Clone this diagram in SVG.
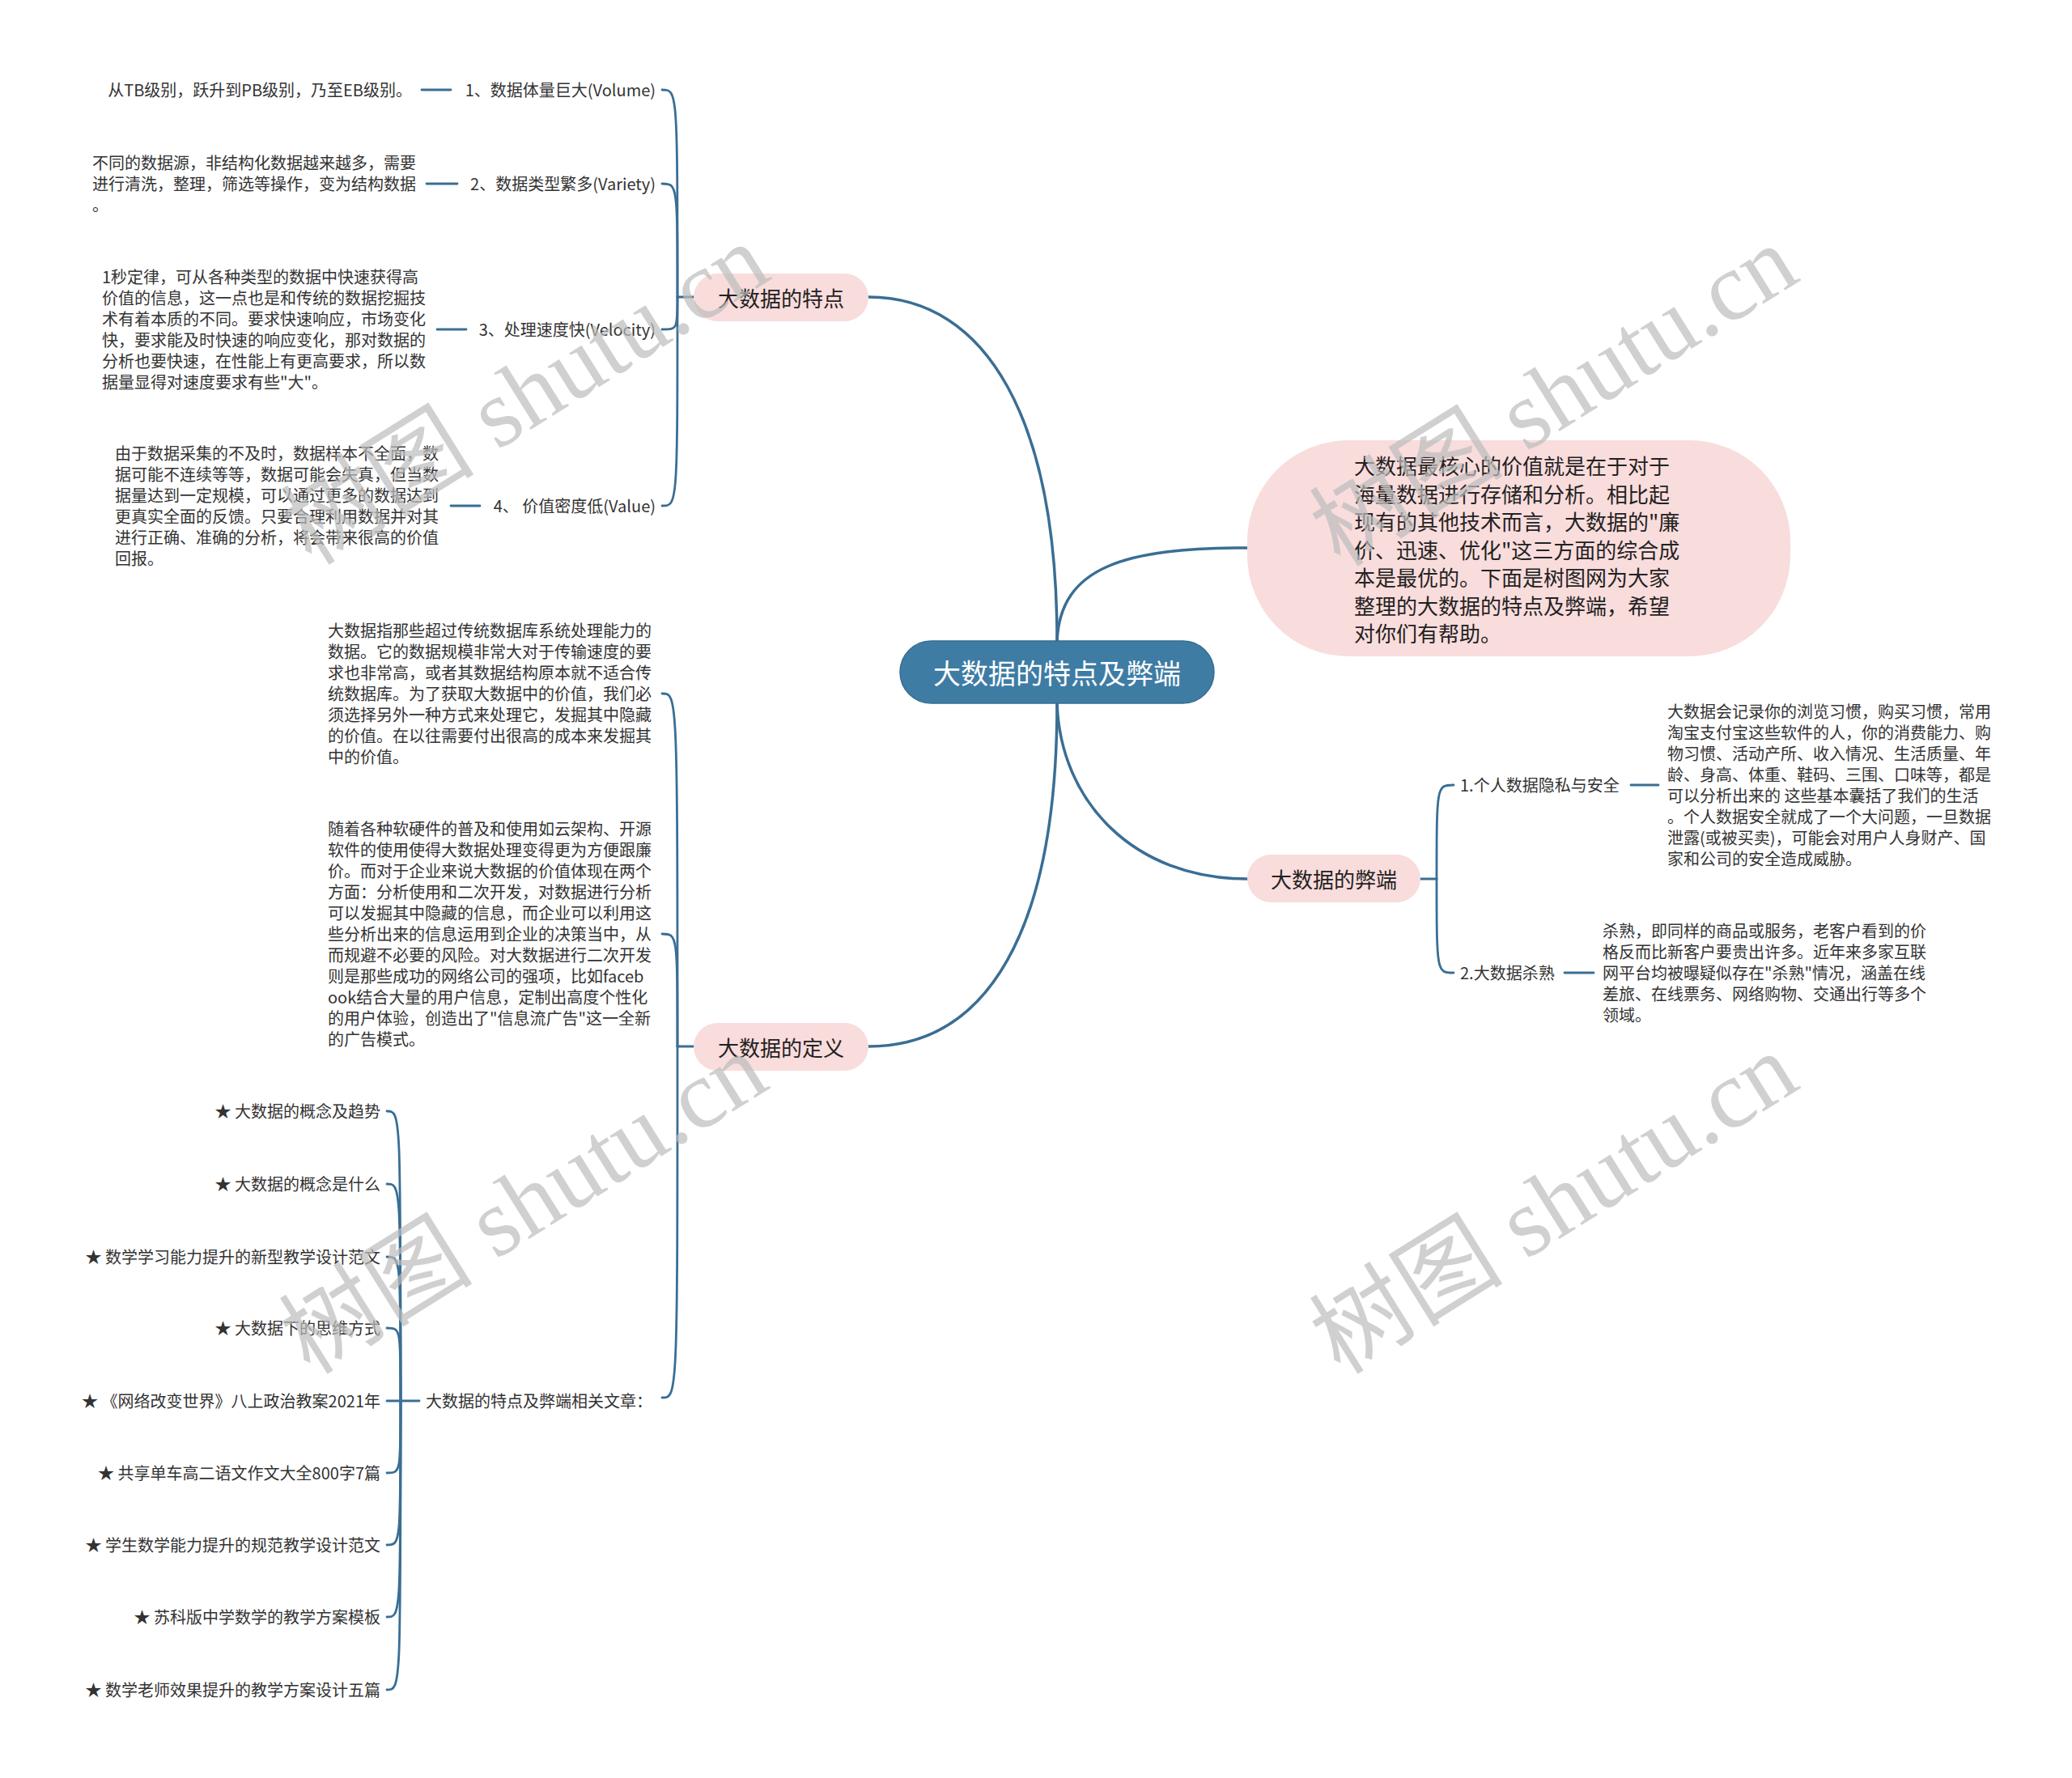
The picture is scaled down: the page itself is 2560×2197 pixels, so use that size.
<svg xmlns="http://www.w3.org/2000/svg" width="2560" height="2197" viewBox="0 0 2560 2197">
<style>
.lk{fill:none;stroke:#3a6e94;stroke-width:2.8;stroke-linecap:round}
.mk{fill:none;stroke:#3a6e94;stroke-width:3.5;stroke-linecap:round}
.t{font-family:"Noto Sans CJK SC","Microsoft YaHei",sans-serif;fill:#333;font-size:20px}
.nt{font-family:"Noto Sans CJK SC","Microsoft YaHei",sans-serif;fill:#222;font-size:26px}
.pk{fill:#f9dcdc}
.wm{font-family:"Liberation Serif","Noto Sans CJK SC",serif;font-size:120px;fill:#bdbdbd;opacity:0.7}
</style>
<rect width="2560" height="2197" fill="#fff"/>
<g id="connectors">
<path class="mk" d="M1306,792 C1306,520 1220,367 1073,367"/>
<path class="mk" d="M1306,792 C1310,700 1390,677 1541,677"/>
<path class="mk" d="M1306,869 C1310,990 1400,1086 1541,1086"/>
<path class="mk" d="M1306,869 C1306,1150 1220,1293 1073,1293"/>
<path class="lk" d="M857,367 L837,367"/>
<path class="lk" d="M837,367 C837,111 837,111 818,111"/>
<path class="lk" d="M837,367 C837,227 837,227 818,227"/>
<path class="lk" d="M837,367 C837,407 837,407 818,407"/>
<path class="lk" d="M837,367 C837,625 837,625 818,625"/>
<path class="lk" d="M521,111 L557,111"/>
<path class="lk" d="M527,227 L565,227"/>
<path class="lk" d="M540,407 L576,407"/>
<path class="lk" d="M557,625 L593,625"/>
<path class="lk" d="M857,1293 L837,1293"/>
<path class="lk" d="M837,1293 C837,857 837,857 818,857"/>
<path class="lk" d="M837,1293 C837,1154 837,1154 818,1154"/>
<path class="lk" d="M837,1293 C837,1727 837,1727 818,1727"/>
<path class="lk" d="M518,1731 L495,1731"/>
<path class="lk" d="M495,1731 C495,1373 495,1373 478,1373"/>
<path class="lk" d="M495,1731 C495,1463 495,1463 478,1463"/>
<path class="lk" d="M495,1731 C495,1553 495,1553 478,1553"/>
<path class="lk" d="M495,1731 C495,1641 495,1641 478,1641"/>
<path class="lk" d="M495,1731 L478,1731"/>
<path class="lk" d="M495,1731 C495,1820 495,1820 478,1820"/>
<path class="lk" d="M495,1731 C495,1909 495,1909 478,1909"/>
<path class="lk" d="M495,1731 C495,1998 495,1998 478,1998"/>
<path class="lk" d="M495,1731 C495,2088 495,2088 478,2088"/>
<path class="lk" d="M1755,1086 L1775,1086"/>
<path class="lk" d="M1775,1086 C1775,970 1775,970 1796,970"/>
<path class="lk" d="M1775,1086 C1775,1202 1775,1202 1796,1202"/>
<path class="lk" d="M2015,970 L2049,970"/>
<path class="lk" d="M1933,1202 L1969,1202"/>
</g>

<g id="center">
<rect x="1112" y="792" width="388" height="77" rx="38.5" fill="#3e7ca4" stroke="#356d92" stroke-width="1.5"/>
<text x="1306" y="830" text-anchor="middle" dominant-baseline="central" font-family="Noto Sans CJK SC, sans-serif" font-size="34" fill="#fff">大数据的特点及弊端</text>
</g>

<g id="intro">
<rect class="pk" x="1541" y="544" width="671" height="267" rx="125" ry="125"/>
<text class="nt" x="1673" dominant-baseline="central">
<tspan x="1673" y="574">大数据最核心的价值就是在于对于</tspan>
<tspan x="1673" y="608.5">海量数据进行存储和分析。相比起</tspan>
<tspan x="1673" y="643">现有的其他技术而言，大数据的"廉</tspan>
<tspan x="1673" y="677.5">价、迅速、优化"这三方面的综合成</tspan>
<tspan x="1673" y="712">本是最优的。下面是树图网为大家</tspan>
<tspan x="1673" y="746.5">整理的大数据的特点及弊端，希望</tspan>
<tspan x="1673" y="781">对你们有帮助。</tspan>
</text>
</g>

<g id="features">
<rect class="pk" x="857" y="338" width="216" height="59" rx="29.5"/>
<text class="nt" x="965" y="367" text-anchor="middle" dominant-baseline="central">大数据的特点</text>
</g>
<g id="f1"><text class="t" x="810" y="110" text-anchor="end" dominant-baseline="central">1、数据体量巨大(Volume)</text></g>
<g id="f2"><text class="t" x="810" y="226" text-anchor="end" dominant-baseline="central">2、数据类型繁多(Variety)</text></g>
<g id="f3"><text class="t" x="810" y="406" text-anchor="end" dominant-baseline="central">3、处理速度快(Velocity)</text></g>
<g id="f4"><text class="t" x="810" y="624" text-anchor="end" dominant-baseline="central">4、 价值密度低(Value)</text></g>
<g id="f1d"><text class="t" x="509" y="110" text-anchor="end" dominant-baseline="central">从TB级别，跃升到PB级别，乃至EB级别。</text></g>
<g id="f2d"><text class="t" dominant-baseline="central">
<tspan x="114" y="200">不同的数据源，非结构化数据越来越多，需要</tspan>
<tspan x="114" y="226">进行清洗，整理，筛选等操作，变为结构数据</tspan>
<tspan x="114" y="252">。</tspan></text></g>
<g id="f3d"><text class="t" dominant-baseline="central">
<tspan x="126" y="341">1秒定律，可从各种类型的数据中快速获得高</tspan>
<tspan x="126" y="367">价值的信息，这一点也是和传统的数据挖掘技</tspan>
<tspan x="126" y="393">术有着本质的不同。要求快速响应，市场变化</tspan>
<tspan x="126" y="419">快，要求能及时快速的响应变化，那对数据的</tspan>
<tspan x="126" y="445">分析也要快速，在性能上有更高要求，所以数</tspan>
<tspan x="126" y="471">据量显得对速度要求有些"大"。</tspan></text></g>
<g id="f4d"><text class="t" dominant-baseline="central">
<tspan x="142" y="559">由于数据采集的不及时，数据样本不全面，数</tspan>
<tspan x="142" y="585">据可能不连续等等，数据可能会失真，但当数</tspan>
<tspan x="142" y="611">据量达到一定规模，可以通过更多的数据达到</tspan>
<tspan x="142" y="637">更真实全面的反馈。只要合理利用数据并对其</tspan>
<tspan x="142" y="663">进行正确、准确的分析，将会带来很高的价值</tspan>
<tspan x="142" y="689">回报。</tspan></text></g>

<g id="definition">
<rect class="pk" x="857" y="1264" width="216" height="59" rx="29.5"/>
<text class="nt" x="965" y="1293" text-anchor="middle" dominant-baseline="central">大数据的定义</text>
</g>
<g id="d1"><text class="t" dominant-baseline="central">
<tspan x="405" y="778">大数据指那些超过传统数据库系统处理能力的</tspan>
<tspan x="405" y="804">数据。它的数据规模非常大对于传输速度的要</tspan>
<tspan x="405" y="830">求也非常高，或者其数据结构原本就不适合传</tspan>
<tspan x="405" y="856">统数据库。为了获取大数据中的价值，我们必</tspan>
<tspan x="405" y="882">须选择另外一种方式来处理它，发掘其中隐藏</tspan>
<tspan x="405" y="908">的价值。在以往需要付出很高的成本来发掘其</tspan>
<tspan x="405" y="934">中的价值。</tspan></text></g>
<g id="d2"><text class="t" dominant-baseline="central">
<tspan x="405" y="1023">随着各种软硬件的普及和使用如云架构、开源</tspan>
<tspan x="405" y="1049">软件的使用使得大数据处理变得更为方便跟廉</tspan>
<tspan x="405" y="1075">价。而对于企业来说大数据的价值体现在两个</tspan>
<tspan x="405" y="1101">方面：分析使用和二次开发，对数据进行分析</tspan>
<tspan x="405" y="1127">可以发掘其中隐藏的信息，而企业可以利用这</tspan>
<tspan x="405" y="1153">些分析出来的信息运用到企业的决策当中，从</tspan>
<tspan x="405" y="1179">而规避不必要的风险。对大数据进行二次开发</tspan>
<tspan x="405" y="1205">则是那些成功的网络公司的强项，比如faceb</tspan>
<tspan x="405" y="1231">ook结合大量的用户信息，定制出高度个性化</tspan>
<tspan x="405" y="1257">的用户体验，创造出了"信息流广告"这一全新</tspan>
<tspan x="405" y="1283">的广告模式。</tspan></text></g>
<g id="related"><text class="t" x="526" y="1730" dominant-baseline="central">大数据的特点及弊端相关文章：</text></g>
<g id="r1"><text class="t" x="470" y="1372" text-anchor="end" dominant-baseline="central">★ 大数据的概念及趋势</text></g>
<g id="r2"><text class="t" x="470" y="1462" text-anchor="end" dominant-baseline="central">★ 大数据的概念是什么</text></g>
<g id="r3"><text class="t" x="470" y="1552" text-anchor="end" dominant-baseline="central">★ 数学学习能力提升的新型教学设计范文</text></g>
<g id="r4"><text class="t" x="470" y="1640" text-anchor="end" dominant-baseline="central">★ 大数据下的思维方式</text></g>
<g id="r5"><text class="t" x="470" y="1730" text-anchor="end" dominant-baseline="central">★ 《网络改变世界》八上政治教案2021年</text></g>
<g id="r6"><text class="t" x="470" y="1819" text-anchor="end" dominant-baseline="central">★ 共享单车高二语文作文大全800字7篇</text></g>
<g id="r7"><text class="t" x="470" y="1908" text-anchor="end" dominant-baseline="central">★ 学生数学能力提升的规范教学设计范文</text></g>
<g id="r8"><text class="t" x="470" y="1997" text-anchor="end" dominant-baseline="central">★ 苏科版中学数学的教学方案模板</text></g>
<g id="r9"><text class="t" x="470" y="2087" text-anchor="end" dominant-baseline="central">★ 数学老师效果提升的教学方案设计五篇</text></g>

<g id="disadvantages">
<rect class="pk" x="1541" y="1056" width="214" height="59" rx="29.5"/>
<text class="nt" x="1648" y="1085" text-anchor="middle" dominant-baseline="central">大数据的弊端</text>
</g>
<g id="b1"><text class="t" x="1804" y="969" dominant-baseline="central">1.个人数据隐私与安全</text></g>
<g id="b2"><text class="t" x="1804" y="1201" dominant-baseline="central">2.大数据杀熟</text></g>
<g id="b1d"><text class="t" dominant-baseline="central">
<tspan x="2060" y="878">大数据会记录你的浏览习惯，购买习惯，常用</tspan>
<tspan x="2060" y="904">淘宝支付宝这些软件的人，你的消费能力、购</tspan>
<tspan x="2060" y="930">物习惯、活动产所、收入情况、生活质量、年</tspan>
<tspan x="2060" y="956">龄、身高、体重、鞋码、三围、口味等，都是</tspan>
<tspan x="2060" y="982">可以分析出来的 这些基本囊括了我们的生活</tspan>
<tspan x="2060" y="1008">。个人数据安全就成了一个大问题，一旦数据</tspan>
<tspan x="2060" y="1034">泄露(或被买卖)，可能会对用户人身财产、国</tspan>
<tspan x="2060" y="1060">家和公司的安全造成威胁。</tspan></text></g>
<g id="b2d"><text class="t" dominant-baseline="central">
<tspan x="1980" y="1149">杀熟，即同样的商品或服务，老客户看到的价</tspan>
<tspan x="1980" y="1175">格反而比新客户要贵出许多。近年来多家互联</tspan>
<tspan x="1980" y="1201">网平台均被曝疑似存在"杀熟"情况，涵盖在线</tspan>
<tspan x="1980" y="1227">差旅、在线票务、网络购物、交通出行等多个</tspan>
<tspan x="1980" y="1253">领域。</tspan></text></g>

<g id="watermarks">
<text class="wm" transform="translate(385,700) rotate(-32)">树图 shutu.cn</text>
<text class="wm" transform="translate(1656,702) rotate(-32)">树图 shutu.cn</text>
<text class="wm" transform="translate(383,1700) rotate(-32)">树图 shutu.cn</text>
<text class="wm" transform="translate(1656,1700) rotate(-32)">树图 shutu.cn</text>
</g>
</svg>
